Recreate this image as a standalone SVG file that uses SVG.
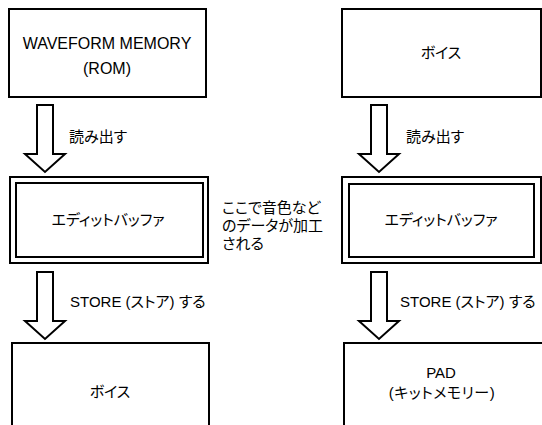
<svg xmlns="http://www.w3.org/2000/svg" width="542" height="425" viewBox="0 0 542 425">
  <style>
    .box { fill: #fff; stroke: #000; stroke-width: 2; }
    .arrow { fill: #fff; stroke: #000; stroke-width: 2; stroke-linejoin: miter; }
    text { font-family: "Liberation Sans", "Noto Sans CJK JP", sans-serif; fill: #000; font-feature-settings: "palt"; }
    .lbl { font-size: 15px; }
    .mid { text-anchor: middle; }
  </style>
  <defs>
    <!-- hollow block arrow pointing down, origin at shaft top centre -->
    <path id="blockArrow" d="M -8 0 H 8 V 49 H 20 L 0 67 L -20 49 H -8 Z"/>
  </defs>

  <!-- left column -->
  <g id="waveform-memory">
    <rect class="box" x="9" y="9" width="197" height="88"/>
    <text class="mid" x="107" y="49" font-size="16">WAVEFORM MEMORY</text>
    <text class="mid" x="107" y="74" font-size="16">(ROM)</text>
  </g>
  <g id="edit-buffer-left">
    <rect class="box" x="10" y="177" width="198" height="86"/>
    <rect class="box" x="16" y="183" width="187" height="74"/>
    <text class="mid lbl" x="108" y="225">エディットバッファ</text>
  </g>
  <g id="voice-left">
    <rect class="box" x="12" y="343" width="197" height="100"/>
    <text class="mid lbl" x="110" y="397">ボイス</text>
  </g>

  <!-- right column -->
  <g id="voice-right">
    <rect class="box" x="342" y="9" width="199" height="88"/>
    <text class="mid lbl" x="441" y="58">ボイス</text>
  </g>
  <g id="edit-buffer-right">
    <rect class="box" x="342" y="177" width="199" height="86"/>
    <rect class="box" x="349" y="184" width="185" height="73"/>
    <text class="mid lbl" x="441" y="225">エディットバッファ</text>
  </g>
  <g id="pad-kit-memory">
    <rect class="box" x="344" y="343" width="199" height="100"/>
    <text class="mid" x="441" y="378" font-size="15">PAD</text>
    <text class="mid lbl" x="442" y="398" letter-spacing="0.5">(キットメモリー)</text>
  </g>

  <!-- annotation between the edit buffers -->
  <g id="note">
    <text class="lbl" x="222" y="213">ここで音色など</text>
    <text class="lbl" x="222" y="231">のデータが加工</text>
    <text class="lbl" x="222" y="249">される</text>
  </g>

  <!-- connectors -->
  <g id="connectors">
    <use href="#blockArrow" class="arrow" x="45" y="105"/>
    <use href="#blockArrow" class="arrow" x="45" y="272"/>
    <use href="#blockArrow" class="arrow" x="379" y="105"/>
    <use href="#blockArrow" class="arrow" x="379" y="272"/>
    <text class="lbl" x="69" y="142">読み出す</text>
    <text class="lbl" x="406" y="142">読み出す</text>
    <text class="lbl" x="70" y="307">STORE (ストア) する</text>
    <text class="lbl" x="400" y="307">STORE (ストア) する</text>
  </g>
</svg>
